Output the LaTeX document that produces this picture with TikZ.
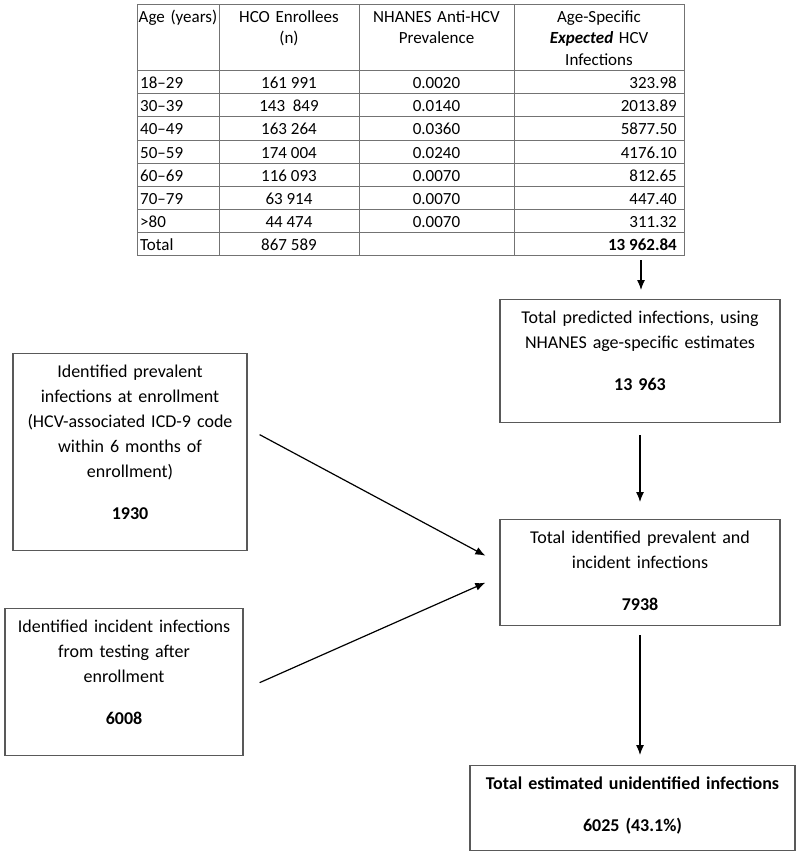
\documentclass[tikz,border=0pt]{standalone}
\usepackage{fontspec}
\setmainfont{Carlito}
\usetikzlibrary{arrows.meta,calc}

\begin{document}
\begin{tikzpicture}[x=1pt, y=-1pt,
        tabline/.style={black!55, line width=1pt},
        cell/.style={anchor=base, inner sep=0pt, font=\fontsize{17}{21.5}\selectfont},
        head/.style={cell, text width=#1, align=center},
        flowbox/.style={draw=black!65, line width=1.3pt, anchor=north, inner sep=0pt,
            text width=#1, align=center, text height=24pt, font=\fontsize{18}{25}\selectfont},
        arr/.style={-{Latex[length=10pt,width=8pt]}, line width=1.2pt}]
        \useasboundingbox (0,0) rectangle (800,856);

        % table
        \draw[tabline] (137,5) rectangle (684,255);
        \draw[tabline] (219,5) -- (219,255) (359,5) -- (359,255) (514,5) -- (514,255);
        \draw[tabline] (137,71) -- (684,71) (137,94) -- (684,94) (137,117) -- (684,117)
            (137,140) -- (684,140) (137,163) -- (684,163) (137,186) -- (684,186)
            (137,209) -- (684,209) (137,232) -- (684,232);

        \node[head=80pt] (hage) at (178,22.5) {Age (years)};
        \node[head=136pt] (henr) at (289,22.5) {HCO Enrollees\\(n)};
        \node[head=150pt] (hprv) at (436.5,22.5) {NHANES Anti-HCV\\Prevalence};
        \node[head=166pt] (hexp) at (599,22.5) {Age-Specific\\\textbf{\textit{Expected}} HCV\\Infections};

        \node[cell, anchor=base west] (age1) at (140,89) {18–29};
        \node[cell, anchor=base west] (age2) at (140,112) {30–39};
        \node[cell, anchor=base west] (age3) at (140,135) {40–49};
        \node[cell, anchor=base west] (age4) at (140,158) {50–59};
        \node[cell, anchor=base west] (age5) at (140,181) {60–69};
        \node[cell, anchor=base west] (age6) at (140,204) {70–79};
        \node[cell, anchor=base west] (age7) at (140,227) {>80};
        \node[cell, anchor=base west] (age8) at (140,250) {Total};

        \node[cell] (enr1) at (289,89) {161 991};
        \node[cell] (enr2) at (289,112) {143~~849};
        \node[cell] (enr3) at (289,135) {163 264};
        \node[cell] (enr4) at (289,158) {174 004};
        \node[cell] (enr5) at (289,181) {116 093};
        \node[cell] (enr6) at (289,204) {63 914};
        \node[cell] (enr7) at (289,227) {44 474};
        \node[cell] (enr8) at (289,250) {867 589};

        \node[cell] (prv1) at (436.5,89) {0.0020};
        \node[cell] (prv2) at (436.5,112) {0.0140};
        \node[cell] (prv3) at (436.5,135) {0.0360};
        \node[cell] (prv4) at (436.5,158) {0.0240};
        \node[cell] (prv5) at (436.5,181) {0.0070};
        \node[cell] (prv6) at (436.5,204) {0.0070};
        \node[cell] (prv7) at (436.5,227) {0.0070};

        \node[cell, anchor=base east] (exp1) at (677,89) {323.98};
        \node[cell, anchor=base east] (exp2) at (677,112) {2013.89};
        \node[cell, anchor=base east] (exp3) at (677,135) {5877.50};
        \node[cell, anchor=base east] (exp4) at (677,158) {4176.10};
        \node[cell, anchor=base east] (exp5) at (677,181) {812.65};
        \node[cell, anchor=base east] (exp6) at (677,204) {447.40};
        \node[cell, anchor=base east] (exp7) at (677,227) {311.32};
        \node[cell, anchor=base east] (exp8) at (677,250) {\textbf{13 962.84}};
        \coordinate (tabbot) at (641,255);

        % flow boxes
        \node[flowbox=280pt, text depth=99pt] (pred) at (640,299)
            {Total predicted infections, using\\NHANES age-specific estimates\\[17pt]\textbf{13 963}};
        \node[flowbox=280pt, text depth=82pt] (ident) at (640,519)
            {Total identified prevalent and\\incident infections\\[17pt]\textbf{7938}};
        \node[flowbox=234pt, text depth=173pt] (prevl) at (130,353)
            {Identified prevalent\\infections at enrollment\\(HCV-associated ICD-9 code\\within 6 months of\\enrollment)\\[17pt]\textbf{1930}};
        \node[flowbox=238pt, text depth=123pt] (incid) at (124,608)
            {Identified incident infections\\from testing after\\enrollment\\[17pt]\textbf{6008}};
        \node[flowbox=325pt, text depth=61pt] (unid) at (632.5,765)
            {\textbf{Total estimated unidentified infections}\\[17pt]\textbf{6025 (43.1\%)}};

        \draw[arr, shorten <=5pt, shorten >=9pt] (tabbot) -- (tabbot |- pred.north);
        \draw[arr, shorten <=12pt, shorten >=17pt] (pred.south) -- (ident.north);
        \draw[arr, shorten <=9pt, shorten >=10pt] (ident.south) -- (ident.south |- unid.north);
        \draw[arr] ($(prevl.east)+(12,-17.5)$) -- ($(ident.west)+(-14,-17)$);
        \draw[arr] ($(incid.east)+(16,0.5)$) -- ($(ident.west)+(-14,10)$);
    \end{tikzpicture}
\end{document}
